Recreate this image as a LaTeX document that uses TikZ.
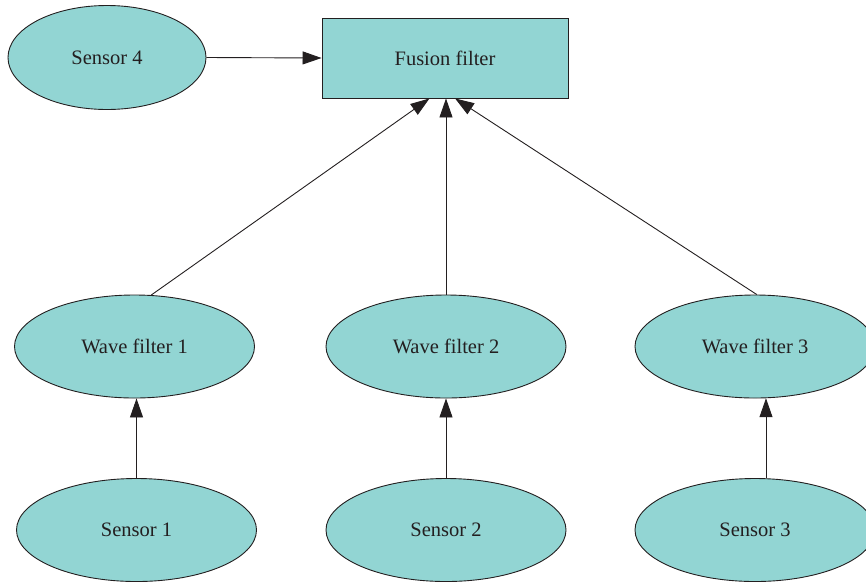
\documentclass[tikz,border=0pt]{standalone}
\usepackage{fontspec}
\setmainfont{Liberation Serif}
\usetikzlibrary{shapes.geometric,arrows.meta}
\definecolor{fillc}{HTML}{92D5D3}
\definecolor{inkc}{HTML}{231F20}
\tikzset{
  oval/.style={ellipse, draw=inkc, fill=fillc, line width=0.9pt, inner sep=0pt,
    minimum width=240pt, minimum height=103pt, text=inkc, font=\fontsize{20.5}{24}\selectfont},
  boxnode/.style={rectangle, draw=inkc, fill=fillc, line width=0.9pt, inner sep=0pt,
    minimum width=246pt, minimum height=80pt, text=inkc, font=\fontsize{20.5}{24}\selectfont},
  link/.style={draw=inkc, line width=0.9pt, -{Triangle[length=19pt,width=13pt]}}
}
\begin{document}
\begin{tikzpicture}[x=1pt,y=-1pt]
\useasboundingbox (0,0) rectangle (866,582);
\node[boxnode] (fusion) at (445,58) {Fusion filter};
\node[oval, minimum width=198pt, minimum height=104pt] (s4) at (107,57.5) {Sensor 4};
\node[oval] (w1) at (134.5,346.5) {Wave filter 1};
\node[oval] (w2) at (446,346.5) {Wave filter 2};
\node[oval] (w3) at (755,346.5) {Wave filter 3};
\node[oval] (s1) at (136.5,530) {Sensor 1};
\node[oval] (s2) at (446,530) {Sensor 2};
\node[oval] (s3) at (755,530) {Sensor 3};
\draw[link] (s4.east) -- (fusion.west);
\draw[link] (w1.72) -- (fusion.249);
\draw[link] (w2.north) -- (fusion.south -| w2.north);
\draw[link] (w3.88) -- (fusion.284);
\draw[link] (s1.north) -- (w1.south -| s1.north);
\draw[link] (s2.north) -- (w2.south);
\draw[link] (s3.78) -- (w3.282);
\end{tikzpicture}
\end{document}
